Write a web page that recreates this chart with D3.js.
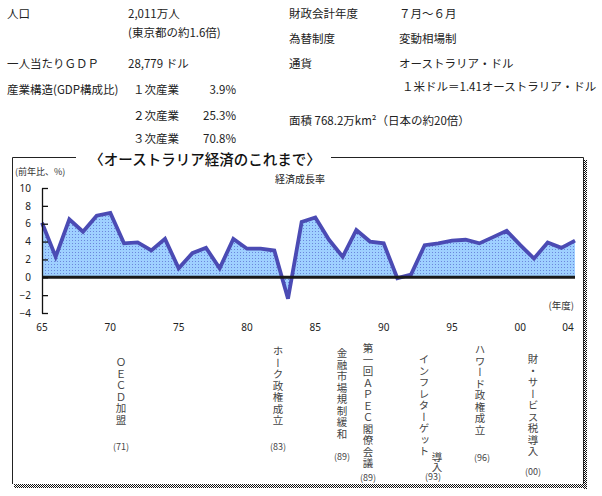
<!DOCTYPE html>
<html>
<head>
<meta charset="utf-8">
<script src="https://cdn.jsdelivr.net/npm/d3@7"></script>
<style>
body{margin:0;background:#fff;}
svg{display:block;font-family:"Noto Sans CJK JP","Noto Sans",sans-serif;}
</style>
</head>
<body>
<svg id="chart" width="602" height="496"></svg>
<script>
// データ
let years=[1965,1966,1967,1968,1969,1970,1971,1972,1973,1974,1975,1976,1977,1978,1979,1980,1981,1982,1983,1984,1985,1986,1987,1988,1989,1990,1991,1992,1993,1994,1995,1996,1997,1998,1999,2000,2001,2002,2003,2004];
let growth=[6.1,2.3,6.5,5.1,6.9,7.2,3.8,3.9,3.0,4.3,1.0,2.7,3.3,1.0,4.3,3.2,3.2,3.0,-2.4,6.2,6.7,4.2,2.3,5.3,4.0,3.8,-0.1,0.3,3.6,3.8,4.1,4.2,3.8,4.5,5.2,3.6,2.1,3.9,3.3,4.1];
let yTicks=[-4,-2,0,2,4,6,8,10];
let xTicks=[1965,1970,1975,1980,1985,1990,1995,2000,2004];

// 上部の概要
let infoLeft=[["人口","2,011万人"],["","(東京都の約1.6倍)"],["一人当たりＧＤＰ","28,779 ドル"],["産業構造(GDP構成比)",""]];
let industries=[["１次産業","3.9%"],["２次産業","25.3%"],["３次産業","70.8%"]];
let infoRight=[["財政会計年度","７月～６月"],["為替制度","変動相場制"],["通貨","オーストラリア・ドル"],["","１米ドル＝1.41オーストラリア・ドル"],["面積 768.2万km²（日本の約20倍）",""]];

// 出来事
let events=["ＯＥＣＤ加盟","ホーク政権成立","金融市場規制緩和","第一回ＡＰＥＣ閣僚会議","インフレターゲット","ハワード政権成立","財・サービス税導入"];
let eventYears=["(71)","(83)","(89)","(89)","(93)","(96)","(00)"];

const svg=d3.select("#chart");

// パターン
const defs=svg.append("defs");
const pat=defs.append("pattern").attr("id","dots").attr("width",3).attr("height",3).attr("patternUnits","userSpaceOnUse");
pat.append("rect").attr("width",3).attr("height",3).attr("fill","#9fd0ff");
pat.append("rect").attr("width",1).attr("height",1).attr("fill","#6b86dc");
const chk=defs.append("pattern").attr("id","checker").attr("width",2).attr("height",2).attr("patternUnits","userSpaceOnUse");
chk.append("rect").attr("width",2).attr("height",2).attr("fill","#fff");
chk.append("rect").attr("width",1).attr("height",1).attr("fill","#111");
chk.append("rect").attr("x",1).attr("y",1).attr("width",1).attr("height",1).attr("fill","#111");

// 上部テキスト
const rowY=[14,33,64,90];
const info=svg.append("g").attr("font-size","11.5px").attr("fill","#222");
infoLeft.forEach(function(r,i){
    info.append("text").attr("x",7).attr("y",rowY[i]).attr("dy","0.35em").text(r[0]);
    info.append("text").attr("x",128).attr("y",rowY[i]).attr("dy","0.35em").text(r[1]);
});
const indY=[90,116,139];
industries.forEach(function(r,i){
    info.append("text").attr("x",133).attr("y",indY[i]).attr("dy","0.35em").text(r[0]);
    info.append("text").attr("x",236).attr("y",indY[i]).attr("dy","0.35em").attr("text-anchor","end").text(r[1]);
});
const rowYR=[14,39,64,87,121];
infoRight.forEach(function(r,i){
    info.append("text").attr("x",289).attr("y",rowYR[i]).attr("dy","0.35em").text(r[0]);
    info.append("text").attr("x",i==3?402:399).attr("y",rowYR[i]).attr("dy","0.35em").text(r[1]);
});

// 枠
svg.append("rect").attr("x",583).attr("y",160).attr("width",4).attr("height",329).attr("fill","url(#checker)");
svg.append("rect").attr("x",14).attr("y",484).attr("width",573).attr("height",4).attr("fill","url(#checker)");
svg.append("path").attr("d","M76,157.5H12.5V484").attr("fill","none").attr("stroke","#222");
svg.append("path").attr("d","M331,157.5H583.5V484").attr("fill","none").attr("stroke","#222");
svg.append("text").attr("x",205).attr("y",159).attr("dy","0.38em").attr("text-anchor","middle")
    .attr("font-size","14.5px").attr("font-weight","500").attr("fill","#111").text("〈オーストラリア経済のこれまで〉");

svg.append("text").attr("x",15).attr("y",172).attr("dy","0.35em").attr("font-size","9px").attr("fill","#333").text("(前年比、%)");
svg.append("text").attr("x",300).attr("y",179).attr("dy","0.35em").attr("text-anchor","middle").attr("font-size","10px").attr("fill","#222").text("経済成長率");
svg.append("text").attr("x",574).attr("y",306).attr("dy","0.35em").attr("text-anchor","end").attr("font-size","9.5px").attr("fill","#333").text("(年度)");

// スケール
const x=d3.scaleLinear().domain([1965,2004]).range([42,575]);
const y=d3.scaleLinear().domain([-4,10]).range([313,188]);

// 面とライン
const area=d3.area().x((d,i)=>x(years[i])).y0(y(0)).y1(d=>y(d));
const line=d3.line().x((d,i)=>x(years[i])).y(d=>y(d));
svg.append("path").datum(growth).attr("d",area).attr("fill","url(#dots)");
svg.append("path").datum(growth).attr("d",line).attr("fill","none").attr("stroke","#4b4bb4").attr("stroke-width",3.8).attr("stroke-linejoin","miter");
svg.append("line").attr("x1",x(1965)).attr("x2",x(2004)).attr("y1",y(0)).attr("y2",y(0)).attr("stroke","#1a1a1a").attr("stroke-width",3);

// Y軸
const yAxis=d3.axisLeft(y).tickValues(yTicks).tickSizeInner(-6).tickSizeOuter(0).tickPadding(11);
const gy=svg.append("g").attr("transform","translate("+x(1965)+",0)").call(yAxis);
gy.selectAll("path,line").attr("stroke","#111").attr("stroke-width",1.3);
gy.selectAll("text").attr("font-size","10px").attr("fill","#222").attr("font-family","\"Noto Sans\",sans-serif");

// X軸ラベル
svg.append("g").selectAll("text").data(xTicks).enter().append("text")
    .attr("x",d=>x(d)+(d==2004?-7:0))
    .attr("y",327).attr("dy","0.35em").attr("text-anchor","middle")
    .attr("font-size","10px").attr("fill","#222").attr("font-family","\"Noto Sans\",sans-serif")
    .text(d=>String(d%100).padStart(2,"0"));

// 出来事（縦書き）
const evX=[121,278,342,368,424,480,533];
const evTop=[357,346,348,343,354,344,354];
const evLabY=[447,447,457,478,477,458,472];
const evLabX=[121,278,342,368,433,482,533];
const ev=svg.append("g").attr("fill","#444").attr("font-size","10.5px");
events.forEach(function(t,i){
    ev.append("text").attr("x",evX[i]).attr("y",evTop[i])
        .attr("style","writing-mode:vertical-rl;letter-spacing:1px").text(t);
    ev.append("text").attr("x",evLabX[i]).attr("y",evLabY[i]).attr("dy","0.35em").attr("text-anchor","middle")
        .attr("font-size","9px").text(eventYears[i]);
});
ev.append("text").attr("x",437).attr("y",452).attr("style","writing-mode:vertical-rl;letter-spacing:-1px").text("導入");
</script>
</body>
</html>
